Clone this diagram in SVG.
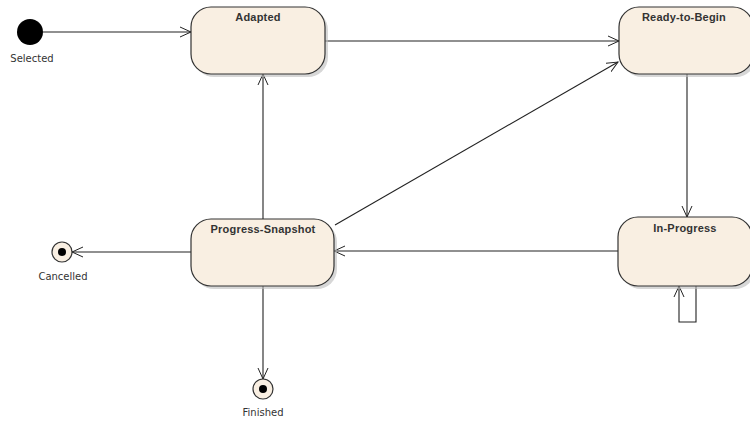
<svg xmlns="http://www.w3.org/2000/svg" width="750" height="421" viewBox="0 0 750 421">
<style>
.st{fill:#f9efe2;stroke:#333;stroke-width:1.2}
.sh{fill:#bdbdbd;opacity:0.6}
.ttl{font-family:"Liberation Sans",Arial,sans-serif;font-weight:bold;font-size:11px;fill:#333;text-anchor:middle;letter-spacing:0.2px}
.lbl{font-family:"DejaVu Sans",Verdana,sans-serif;font-size:10px;fill:#333;text-anchor:middle}
.cn{fill:none;stroke:#222;stroke-width:1.1}
</style>
<defs>
<marker id="ah" viewBox="0 0 12 12" refX="11" refY="6" markerWidth="12" markerHeight="12" markerUnits="userSpaceOnUse" orient="auto">
<path d="M0,1 L11,6 L0,11" fill="none" stroke="#222" stroke-width="1"/>
</marker>
</defs>
<rect width="750" height="421" fill="#fff"/>
<g id="connectors">
<line class="cn" x1="43" y1="32" x2="191" y2="32" marker-end="url(#ah)"/>
<line class="cn" x1="325" y1="41" x2="619" y2="41" marker-end="url(#ah)"/>
<line class="cn" x1="335" y1="225" x2="618" y2="62" marker-end="url(#ah)"/>
<line class="cn" x1="687" y1="74" x2="687" y2="217" marker-end="url(#ah)"/>
<line class="cn" x1="618" y1="251" x2="334" y2="251" marker-end="url(#ah)"/>
<line class="cn" x1="263" y1="219" x2="263" y2="74" marker-end="url(#ah)"/>
<line class="cn" x1="191" y1="252" x2="72" y2="252" marker-end="url(#ah)"/>
<line class="cn" x1="263" y1="286" x2="263" y2="379" marker-end="url(#ah)"/>
<path class="cn" d="M696,286 L696,322 L679,322 L679,286" marker-end="url(#ah)"/>
</g>
<g id="selected">
<circle cx="30" cy="32" r="13" fill="#000"/>
<text class="lbl" x="32" y="62">Selected</text>
</g>
<g id="adapted">
<rect class="sh" x="194" y="10" width="134" height="67" rx="20"/>
<rect class="st" x="191" y="7" width="134" height="67" rx="20"/>
<text class="ttl" x="258" y="21">Adapted</text>
</g>
<g id="ready-to-begin">
<rect class="sh" x="622" y="10" width="134" height="67" rx="20"/>
<rect class="st" x="619" y="7" width="134" height="67" rx="20"/>
<text class="ttl" x="684" y="21">Ready-to-Begin</text>
</g>
<g id="progress-snapshot">
<rect class="sh" x="194" y="222" width="143" height="67" rx="20"/>
<rect class="st" x="191" y="219" width="143" height="67" rx="20"/>
<text class="ttl" x="263" y="233">Progress-Snapshot</text>
</g>
<g id="in-progress">
<rect class="sh" x="621" y="220" width="134" height="69" rx="20"/>
<rect class="st" x="618" y="217" width="134" height="69" rx="20"/>
<text class="ttl" x="685" y="232">In-Progress</text>
</g>
<g id="cancelled">
<circle cx="62" cy="252" r="10" fill="#f9efe2" stroke="#333" stroke-width="1.2"/>
<circle cx="62" cy="252" r="4" fill="#000"/>
<text class="lbl" x="63" y="280">Cancelled</text>
</g>
<g id="finished">
<circle cx="263" cy="389" r="10" fill="#f9efe2" stroke="#333" stroke-width="1.2"/>
<circle cx="263" cy="389" r="4" fill="#000"/>
<text class="lbl" x="263" y="416">Finished</text>
</g>
</svg>
